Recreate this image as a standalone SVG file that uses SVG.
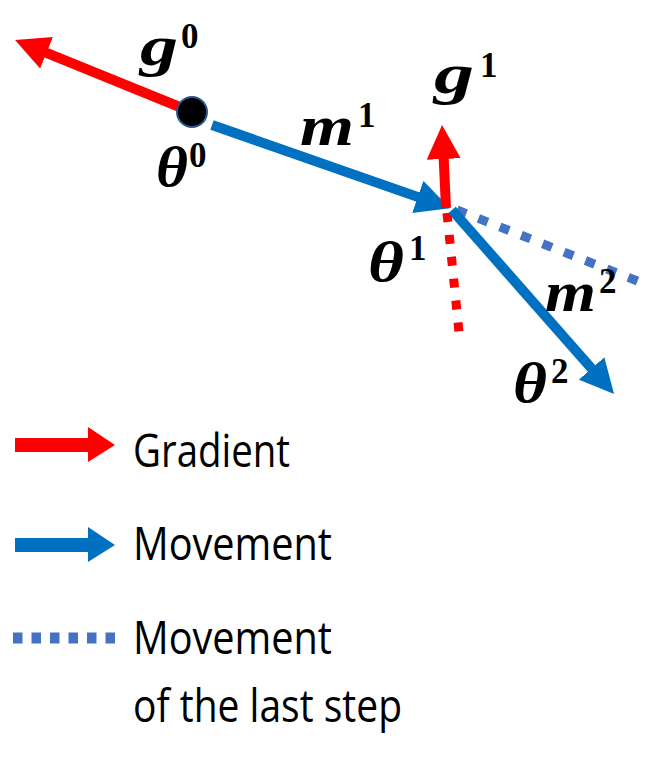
<svg xmlns="http://www.w3.org/2000/svg" width="660" height="759" viewBox="0 0 660 759">
<style>
.math{font-family:"Liberation Serif","Times New Roman",serif;font-weight:bold;font-style:italic;font-size:58px;fill:#000}
.sup{font-family:"Liberation Serif","Times New Roman",serif;font-weight:bold;font-size:35px;fill:#000}
.leg{font-family:"Open Sans","Liberation Sans",sans-serif;font-size:46px;fill:#000}
.red{stroke:#FF0000;stroke-width:10;fill:none}
.blue{stroke:#0070C0;stroke-width:10;fill:none}
.reddot{stroke:#FF0000;stroke-width:9;stroke-dasharray:9 13;fill:none}
.bluedot{stroke:#4472C4;stroke-width:9;stroke-dasharray:10 13;fill:none}
</style>
<defs>
<marker id="hr" viewBox="0 0 34 34" markerWidth="34" markerHeight="34" markerUnits="userSpaceOnUse" refX="2" refY="17" orient="auto"><path d="M0,0 L34,17 L0,34 z" fill="#FF0000"/></marker>
<marker id="hb" viewBox="0 0 34 34" markerWidth="34" markerHeight="34" markerUnits="userSpaceOnUse" refX="2" refY="17" orient="auto"><path d="M0,0 L34,17 L0,34 z" fill="#0070C0"/></marker>
</defs>
<rect width="660" height="759" fill="#fff"/>
<g id="connectors">
<line class="reddot" x1="447" y1="213" x2="460" y2="342"/>
<line class="bluedot" x1="457" y1="210" x2="645" y2="284"/>
<line class="red" x1="192" y1="112" x2="44.7" y2="52.1" marker-end="url(#hr)"/>
<line class="blue" x1="212" y1="125" x2="419.7" y2="197.6" marker-end="url(#hb)"/>
<line class="red" x1="446" y1="208" x2="443.6" y2="157" marker-end="url(#hr)"/>
<line class="blue" x1="452" y1="210" x2="592.9" y2="370" marker-end="url(#hb)"/>
</g>
<g id="theta0">
<circle cx="192" cy="112" r="15" fill="#000" stroke="#2F5597" stroke-width="2"/>
<text class="math" x="156" y="186" textLength="32" lengthAdjust="spacingAndGlyphs">θ</text>
<text class="sup" x="189" y="167">0</text>
</g>
<g id="g0">
<text class="math" x="140" y="65" textLength="38" lengthAdjust="spacingAndGlyphs">g</text>
<text class="sup" x="181" y="48">0</text>
</g>
<g id="m1">
<text class="math" x="300" y="145" textLength="54" lengthAdjust="spacingAndGlyphs">m</text>
<text class="sup" x="358" y="127">1</text>
</g>
<g id="g1">
<text class="math" x="434" y="93" textLength="40" lengthAdjust="spacingAndGlyphs">g</text>
<text class="sup" x="480" y="77">1</text>
</g>
<g id="theta1">
<text class="math" x="368" y="281" textLength="36" lengthAdjust="spacingAndGlyphs">θ</text>
<text class="sup" x="409" y="260">1</text>
</g>
<g id="m2">
<text class="math" x="545" y="311" textLength="51" lengthAdjust="spacingAndGlyphs">m</text>
<text class="sup" x="599" y="293">2</text>
</g>
<g id="theta2">
<text class="math" x="513" y="402" textLength="34" lengthAdjust="spacingAndGlyphs">θ</text>
<text class="sup" x="551" y="383">2</text>
</g>
<g id="legend">
<rect x="15" y="438" width="74" height="14" fill="#FF0000"/>
<polygon points="88,427 115,445 88,462" fill="#FF0000"/>
<text class="leg" x="133" y="467" textLength="157" lengthAdjust="spacingAndGlyphs">Gradient</text>
<rect x="15" y="538" width="74" height="14" fill="#0070C0"/>
<polygon points="88,527 115,545 88,562" fill="#0070C0"/>
<text class="leg" x="133" y="560" textLength="199" lengthAdjust="spacingAndGlyphs">Movement</text>
<line x1="13" y1="638" x2="115" y2="638" stroke="#4472C4" stroke-width="11" stroke-dasharray="9.5 9"/>
<text class="leg" x="133" y="654" textLength="199" lengthAdjust="spacingAndGlyphs">Movement</text>
<text class="leg" x="133" y="722" textLength="269" lengthAdjust="spacingAndGlyphs">of the last step</text>
</g>
</svg>
